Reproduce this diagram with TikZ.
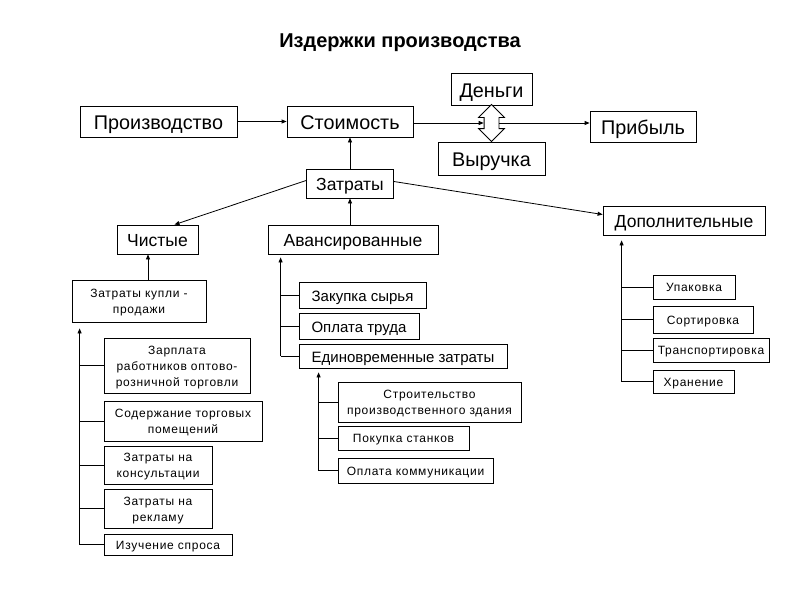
\documentclass[tikz,border=0pt]{standalone}
\usepackage{fontspec}
\setmainfont{Liberation Sans}
\newfontfamily\smallsf[LetterSpace=6]{Liberation Sans}
\usetikzlibrary{arrows.meta,shapes.arrows}
\tikzset{
  box/.style 2 args={draw, line width=0.8pt, minimum width=#1, minimum height=#2, inner sep=1pt},
  two/.style={align=center, text height=25.8pt, text depth=0pt},
  three/.style={align=center, text height=41.8pt, text depth=0pt},
  big/.style={font=\fontsize{19.8}{22}\selectfont, text height=16pt, text depth=0pt},
  mid/.style={font=\fontsize{17.5}{20}\selectfont, text height=14.3pt, text depth=0pt},
  med/.style={font=\fontsize{15}{18}\selectfont, text height=12.3pt, text depth=0pt},
  sml/.style={font=\smallsf\fontsize{12}{16}\selectfont, text height=9.8pt, text depth=0pt},
  arr/.style={line width=0.8pt, -{Triangle[length=5pt,width=4pt]}},
  ln/.style={line width=0.8pt},
  dblarrow/.style={draw, line width=0.8pt, fill=white, shape=double arrow, rotate=90,
    minimum height=37, inner xsep=0pt, inner ysep=7pt, double arrow head extend=5.5pt}
}
\begin{document}
\begin{tikzpicture}[x=1pt,y=-1pt]
  %%%%% START %%%%%
  \useasboundingbox (0,0) rectangle (800,600);
  \node[font=\bfseries\fontsize{20}{24}\selectfont] (title) at (400,43) {Издержки производства};

  % top row
  \node[box={157}{31}, big] (prod) at (158.5,121.5) {Производство};
  \node[box={126}{31}, big] (st) at (350,121.5) {Стоимость};
  \node[box={81}{32}, big] (den) at (491.5,89) {Деньги};
  \node[box={107}{33}, big] (vyr) at (491.5,158.5) {Выручка};
  \node[box={106}{31}, big] (pr) at (643,126.5) {Прибыль};
  \node[dblarrow] (dbl) at (491.5,123) {};

  % second level
  \node[box={87}{29}, mid] (zt) at (350,183.5) {Затраты};
  \node[box={81}{29}, mid] (ch) at (157.5,239.5) {Чистые};
  \node[box={170}{29}, mid] (av) at (353,239.5) {Авансированные};
  \node[box={162}{29}, mid] (dop) at (684,220.5) {Дополнительные};

  % chistye
  \node[box={134}{42}, sml, two] (kp) at (139,301) {Затраты купли -\\продажи};
  \node[box={146}{55}, sml, three] (zp) at (177,365.5) {Зарплата\\работников оптово-\\розничной торговли};
  \node[box={158}{40}, sml, two] (sod) at (183,421) {Содержание торговых\\помещений};
  \node[box={108}{38}, sml, two] (kons) at (158,465) {Затраты на\\консультации};
  \node[box={108}{39}, sml, two] (rek) at (158,508.5) {Затраты на\\рекламу};
  \node[box={128}{21}, sml] (isp) at (168,544.5) {Изучение спроса};

  % avansirovannye
  \node[box={127}{26}, med] (zs) at (362.5,295) {Закупка сырья};
  \node[box={120}{26}, med] (ot) at (359,326) {Оплата труда};
  \node[box={208}{24}, med] (ed) at (403,356) {Единовременные затраты};
  \node[box={183}{40}, sml, two] (str) at (429.5,402) {Строительство\\производственного здания};
  \node[box={131}{24}, sml] (pok) at (403.5,438) {Покупка станков};
  \node[box={155}{25}, sml] (okm) at (415.5,470.5) {Оплата коммуникации};

  % dopolnitelnye
  \node[box={82}{24}, sml] (upk) at (694,287) {Упаковка};
  \node[box={100}{27}, sml] (sort) at (703,319.5) {Сортировка};
  \node[box={116}{24}, sml] (tr) at (711,350) {Транспортировка};
  \node[box={81}{23}, sml] (hr) at (693.5,381.5) {Хранение};

  % arrows
  \draw[arr] (prod) -- (st);
  \draw[arr] (st.east |- dbl) -- (dbl);
  \draw[arr] (dbl) -- (dbl -| pr.west);
  \draw[arr] (zt) -- (st);
  \draw[arr] (av.north -| zt) -- (zt);
  \draw[arr] ([yshift=3pt]zt.west) -- ([xshift=17pt]ch.north);
  \draw[arr] ([yshift=2pt]zt.east) -- ([yshift=6pt]dop.west);
  \coordinate (kpt) at ([xshift=9pt]kp.north);
  \draw[arr] (kpt) -- (kpt |- ch.south);

  % spines
  \coordinate (lsp) at ([xshift=8pt,yshift=-6pt]kp.south west);
  \draw[arr] (lsp |- isp.west) -- (lsp);
  \foreach \n in {zp,sod,kons,rek,isp} \draw[ln] (lsp |- \n.west) -- (\n.west);

  \coordinate (msp) at ([xshift=13pt,yshift=-3pt]av.south west);
  \draw[arr] (msp |- ed.west) -- (msp);
  \foreach \n in {zs,ot,ed} \draw[ln] (msp |- \n.west) -- (\n.west);

  \coordinate (ssp) at ([xshift=20pt,yshift=-4pt]ed.south west);
  \draw[arr] (ssp |- okm.west) -- (ssp);
  \foreach \n in {str,pok,okm} \draw[ln] (ssp |- \n.west) -- (\n.west);

  \coordinate (rsp) at ([xshift=19pt,yshift=-5pt]dop.south west);
  \draw[arr] (rsp |- hr.west) -- (rsp);
  \foreach \n in {upk,sort,tr,hr} \draw[ln] (rsp |- \n.west) -- (\n.west);
  %%%%% END %%%%%
\end{tikzpicture}
\end{document}
